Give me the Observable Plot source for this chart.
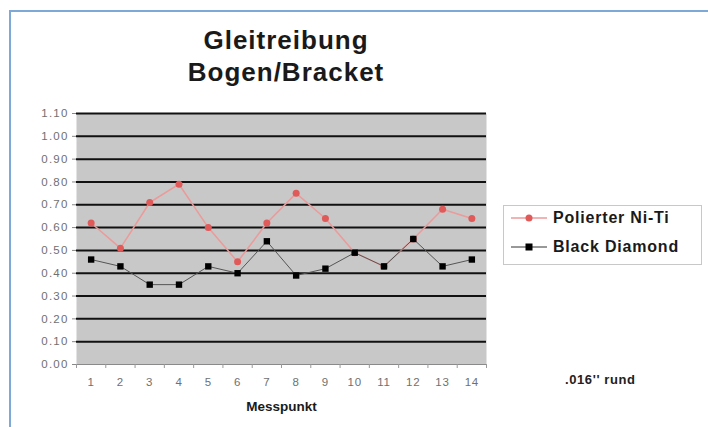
<!DOCTYPE html>
<html>
<head>
<meta charset="utf-8">
<script src="https://cdn.jsdelivr.net/npm/d3@7"></script>
<script src="https://cdn.jsdelivr.net/npm/@observablehq/plot@0.6"></script>
<style>
  html, body { margin: 0; padding: 0; background: #fff; }
  #wrap { position: relative; width: 708px; height: 427px; overflow: hidden; font-family: "Liberation Sans", Arial, sans-serif; }
  #wrap svg.plot { position: absolute; left: 0; top: 0; }
  #wrap svg.plot g[aria-label="y-axis tick label"] text { letter-spacing: 1.2px; }
  #wrap svg.plot g[aria-label="x-axis tick label"] text { letter-spacing: 0.8px; }
  .frameTop { position: absolute; left: 9px; top: 10px; width: 699px; height: 2px; background: #7ea9d6; }
  .frameLeft { position: absolute; left: 9px; top: 10px; width: 2px; height: 417px; background: #7ea9d6; }
  .title { position: absolute; left: 166px; width: 240px; text-align: center; font-weight: bold; font-size: 26px; letter-spacing: 1px; color: #1a1a1a; line-height: 1; }
  .legend { position: absolute; left: 503px; top: 205px; width: 199px; height: 60px; border: 1px solid #c8c8c8; box-sizing: border-box; }
  .legItem { position: absolute; left: 6px; display: flex; align-items: center; font-weight: bold; font-size: 16px; letter-spacing: 0.8px; color: #1a1a1a; white-space: nowrap; }
  .legItem svg { margin-right: 5px; }
  .note { position: absolute; left: 565px; top: 372px; font-weight: bold; font-size: 13px; letter-spacing: 0.6px; color: #222; }
</style>
</head>
<body>
<div id="wrap">
  <div class="frameTop"></div>
  <div class="frameLeft"></div>
  <div class="title" style="top:27px">Gleitreibung</div>
  <div class="title" style="top:59px">Bogen/Bracket</div>
  <div class="legend">
    <div class="legItem" style="top:3px">
      <svg width="38" height="14"><line x1="1" y1="7" x2="37" y2="7" stroke="#ec9a9a" stroke-width="1.5"/><circle cx="19" cy="7" r="3.5" fill="#e05a5a"/></svg>Polierter Ni-Ti
    </div>
    <div class="legItem" style="top:32px">
      <svg width="38" height="14"><line x1="1" y1="7" x2="37" y2="7" stroke="#333" stroke-width="1"/><rect x="15.5" y="3.5" width="7" height="7" fill="#000"/></svg>Black Diamond
    </div>
  </div>
  <div class="note">.016'' rund</div>
</div>
<script>
const messpunkt = [1,2,3,4,5,6,7,8,9,10,11,12,13,14];
const polierterNiTi = [0.62,0.51,0.71,0.79,0.60,0.45,0.62,0.75,0.64,0.49,0.43,0.55,0.68,0.64];
const blackDiamond = [0.46,0.43,0.35,0.35,0.43,0.40,0.54,0.39,0.42,0.49,0.43,0.55,0.43,0.46];
const yTicks = [0,0.1,0.2,0.3,0.4,0.5,0.6,0.7,0.8,0.9,1.0,1.1];
const xBoundaries = [0.5,1.5,2.5,3.5,4.5,5.5,6.5,7.5,8.5,9.5,10.5,11.5,12.5,13.5,14.5];

const red = messpunkt.map((m, i) => ({m, v: polierterNiTi[i]}));
const black = messpunkt.map((m, i) => ({m, v: blackDiamond[i]}));

const chart = Plot.plot({
  width: 708,
  height: 427,
  marginLeft: 76,
  marginRight: 222,
  marginTop: 113,
  marginBottom: 63,
  style: { fontFamily: "Liberation Sans, Arial, sans-serif", background: "transparent" },
  x: { domain: [0.5, 14.5] },
  y: { domain: [0, 1.1] },
  marks: [
    Plot.frame({ fill: "#c8c8c8", stroke: null }),
    Plot.gridY(yTicks.filter(d => d > 0), { stroke: "#111", strokeOpacity: 1, strokeWidth: 2 }),
    Plot.ruleY([0], { stroke: "#8a8a8a", strokeWidth: 1 }),
    Plot.axisY(yTicks, { tickFormat: d3.format(".2f"), tickSize: 4, tickPadding: 4, fontSize: 11.5, fill: "#707070", stroke: "#888", label: null }),
    Plot.axisX(xBoundaries, { tickSize: 4, tickFormat: () => "", stroke: "#999", label: null }),
    Plot.axisX(messpunkt, { tickSize: 0, tickPadding: 13, fontSize: 11.5, fill: "#707070", label: null }),
    Plot.text(["Messpunkt"], { frameAnchor: "bottom", dy: 46, fontWeight: "bold", fontSize: 13.5, fill: "#1a1a1a" }),
    Plot.line(red, { x: "m", y: "v", stroke: "#ec9a9a", strokeWidth: 1.5 }),
    Plot.dot(red, { x: "m", y: "v", r: 3.5, fill: "#e05a5a", stroke: null }),
    Plot.line(black, { x: "m", y: "v", stroke: "#555", strokeWidth: 1 }),
    Plot.dot(black, { x: "m", y: "v", symbol: "square", r: 3.6, fill: "#000", stroke: null })
  ]
});
chart.classList.add("plot");
document.getElementById("wrap").insertBefore(chart, document.getElementById("wrap").firstChild);
</script>
</body>
</html>
